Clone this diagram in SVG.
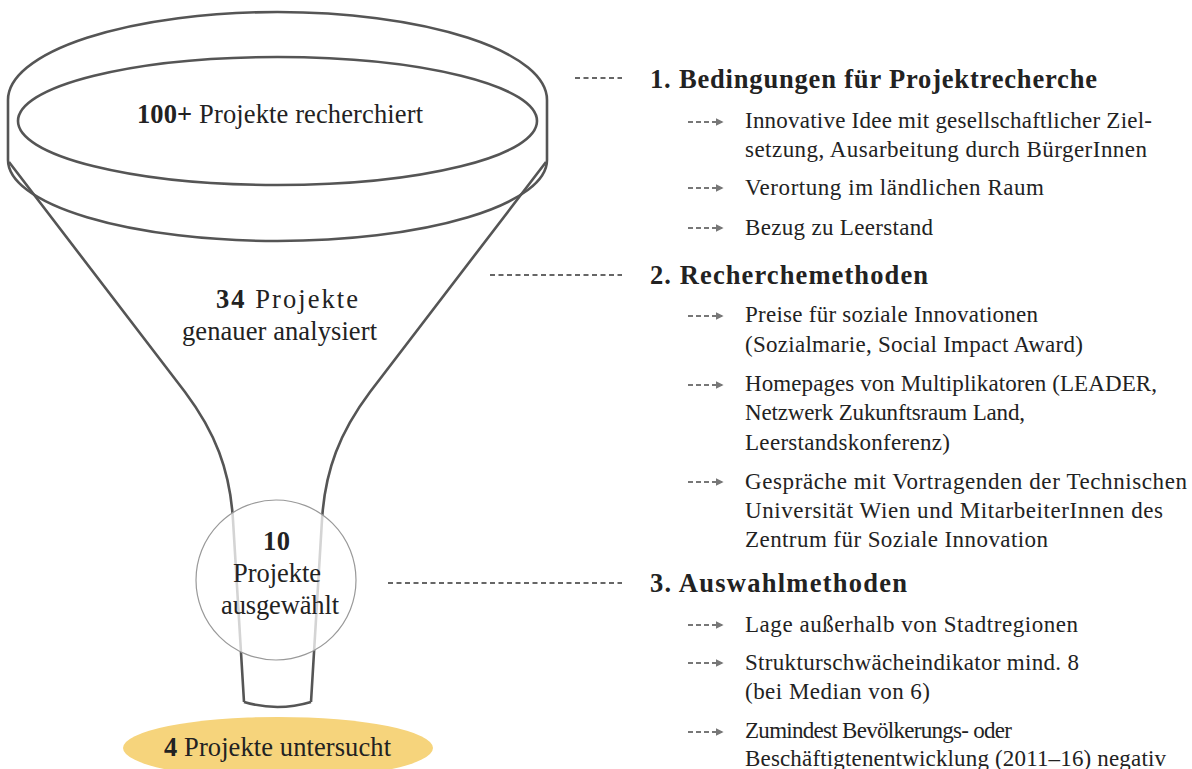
<svg xmlns="http://www.w3.org/2000/svg" width="1192" height="769" viewBox="0 0 1192 769">
<defs>
<style>
.t{font-family:'Liberation Serif','Times New Roman',serif;fill:#222;}
.fl{fill:none;stroke:#555;stroke-width:2.6;}
.hd{font-size:26.5px;font-weight:bold;}
.it{font-size:23px;}
.fn{font-size:26.5px;}
.dl{stroke:#666;stroke-width:2;stroke-dasharray:5 3.5;fill:none;}
.ar{stroke:#777;stroke-width:2;stroke-dasharray:5 3;fill:none;}
</style>
<marker id="ah" viewBox="0 0 10 10" refX="8" refY="5" markerWidth="4" markerHeight="4" orient="auto" markerUnits="strokeWidth">
<path d="M0,0 L10,5 L0,10 z" fill="#777"/>
</marker>
</defs>
<rect width="1192" height="769" fill="#fff"/>

<g id="funnel">
<path class="fl" d="M8,100 A269.5,88 0 0 1 547,100"/>
<ellipse class="fl" cx="277.5" cy="121" rx="259.5" ry="64"/>
<line class="fl" x1="8" y1="100" x2="8" y2="160"/>
<line class="fl" x1="547" y1="100" x2="547" y2="160"/>
<path class="fl" d="M8,160 A269.5,81 0 0 0 547,160"/>
<path class="fl" d="M9,162 L185,392 C215,432 230,470 233,520 L244,702"/>
<path class="fl" d="M546,162 L370,392 C340,432 325,470 322,520 L311,702"/>
<path class="fl" d="M244,702 Q277.5,712 311,702"/>
<text class="t fn" x="137" y="123" textLength="286"><tspan font-weight="bold">100+</tspan> Projekte recherchiert</text>
<text class="t fn" x="216" y="308" textLength="142"><tspan font-weight="bold">34</tspan> Projekte</text>
<text class="t fn" x="182" y="340" textLength="195">genauer analysiert</text>
</g>

<g id="selected">
<circle cx="276" cy="580" r="80" fill="#fff" fill-opacity="0.75" stroke="#999" stroke-width="1.2"/>
<text class="t fn" x="263" y="550" textLength="27" font-weight="bold">10</text>
<text class="t fn" x="233" y="582" textLength="88">Projekte</text>
<text class="t fn" x="221" y="614" textLength="118">ausgewählt</text>
</g>

<g id="result">
<ellipse cx="278" cy="748" rx="155" ry="31" fill="#F6D47C"/>
<text class="t fn" x="164" y="756" textLength="227"><tspan font-weight="bold">4</tspan> Projekte untersucht</text>
</g>

<g id="connectors">
<line class="dl" x1="575" y1="78" x2="622" y2="78"/>
<line class="dl" x1="490" y1="275" x2="622" y2="275"/>
<line class="dl" x1="388" y1="583" x2="622" y2="583"/>
<line class="ar" x1="688" y1="122" x2="722" y2="122" marker-end="url(#ah)"/>
<line class="ar" x1="688" y1="188" x2="722" y2="188" marker-end="url(#ah)"/>
<line class="ar" x1="688" y1="228" x2="722" y2="228" marker-end="url(#ah)"/>
<line class="ar" x1="688" y1="316" x2="722" y2="316" marker-end="url(#ah)"/>
<line class="ar" x1="688" y1="385" x2="722" y2="385" marker-end="url(#ah)"/>
<line class="ar" x1="688" y1="482" x2="722" y2="482" marker-end="url(#ah)"/>
<line class="ar" x1="688" y1="625" x2="722" y2="625" marker-end="url(#ah)"/>
<line class="ar" x1="688" y1="663" x2="722" y2="663" marker-end="url(#ah)"/>
<line class="ar" x1="688" y1="732" x2="722" y2="732" marker-end="url(#ah)"/>
</g>

<g id="section1">
<text class="t hd" x="650" y="88" textLength="447">1. Bedingungen für Projektrecherche</text>
<text class="t it" x="745" y="128" textLength="407">Innovative Idee mit gesellschaftlicher Ziel-</text>
<text class="t it" x="745" y="157" textLength="402">setzung, Ausarbeitung durch BürgerInnen</text>
<text class="t it" x="745" y="195" textLength="299">Verortung im ländlichen Raum</text>
<text class="t it" x="745" y="235" textLength="188">Bezug zu Leerstand</text>
</g>

<g id="section2">
<text class="t hd" x="650" y="284" textLength="278">2. Recherchemethoden</text>
<text class="t it" x="745" y="322" textLength="293">Preise für soziale Innovationen</text>
<text class="t it" x="745" y="352" textLength="338">(Sozialmarie, Social Impact Award)</text>
<text class="t it" x="745" y="391" textLength="412">Homepages von Multiplikatoren (LEADER,</text>
<text class="t it" x="745" y="420" textLength="280">Netzwerk Zukunftsraum Land,</text>
<text class="t it" x="745" y="450" textLength="205">Leerstandskonferenz)</text>
<text class="t it" x="745" y="489" textLength="442">Gespräche mit Vortragenden der Technischen</text>
<text class="t it" x="745" y="518" textLength="418">Universität Wien und MitarbeiterInnen des</text>
<text class="t it" x="745" y="547" textLength="303">Zentrum für Soziale Innovation</text>
</g>

<g id="section3">
<text class="t hd" x="650" y="592" textLength="257">3. Auswahlmethoden</text>
<text class="t it" x="745" y="632" textLength="333">Lage außerhalb von Stadtregionen</text>
<text class="t it" x="745" y="670" textLength="334">Strukturschwächeindikator mind. 8</text>
<text class="t it" x="745" y="699" textLength="185">(bei Median von 6)</text>
<text class="t it" x="745" y="738" textLength="267">Zumindest Bevölkerungs- oder</text>
<text class="t it" x="745" y="766" textLength="421">Beschäftigtenentwicklung (2011–16) negativ</text>
</g>
</svg>
